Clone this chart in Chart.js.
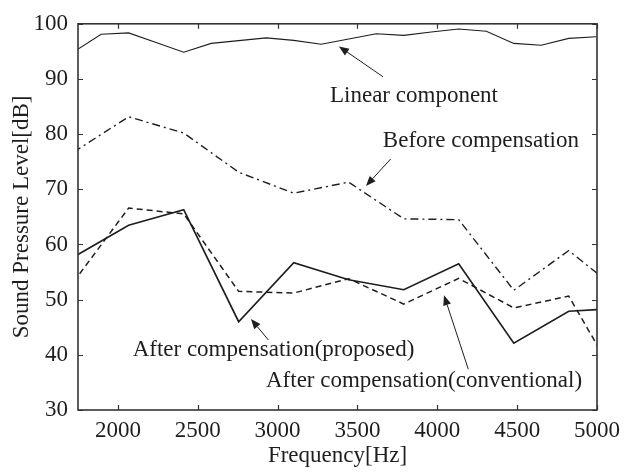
<!DOCTYPE html>
<html>
<head>
<meta charset="utf-8">
<script src="https://cdn.jsdelivr.net/npm/chart.js@4"></script>
<style>
  html, body { margin: 0; padding: 0; background: #fff; }
  #wrap { width: 631px; height: 473px; }
</style>
</head>
<body>
<div id="wrap"><canvas id="c" width="631" height="473"></canvas></div>
<script>
// ---- data ----
const freqFine = [1723, 1895, 2067, 2239, 2412, 2584, 2756, 2929, 3101, 3273, 3445, 3618, 3790, 3962, 4134, 4307, 4479, 4651, 4823, 4996];
const linearComponent = [94.9, 98.1, 98.35, 96.6, 94.85, 96.45, 96.95, 97.45, 97.0, 96.3, 97.25, 98.2, 97.9, 98.5, 99.05, 98.65, 96.45, 96.1, 97.35, 97.65];

const freqCoarse = [1723, 2067, 2412, 2756, 3101, 3445, 3790, 4134, 4479, 4823, 5168];
const beforeComp = [76.75, 83.15, 80.2, 73.1, 69.3, 71.3, 64.65, 64.5, 51.7, 58.9, 50.9];
const afterProposed = [57.75, 63.5, 66.3, 46.0, 56.7, 53.6, 51.8, 56.5, 42.1, 47.9, 48.5];
const afterConventional = [53.25, 66.6, 65.55, 51.5, 51.2, 53.8, 49.2, 53.85, 48.5, 50.65, 33.4];

const xTicks = [2000, 2500, 3000, 3500, 4000, 4500, 5000];
const yTicks = [30, 40, 50, 60, 70, 80, 90, 100];

// annotations (data coordinates)
const noteTexts = ['Linear component', 'Before compensation', 'After compensation(proposed)', 'After compensation(conventional)'];
const noteX = [3854, 4273, 2974, 3917];
const noteY = [86.9, 78.7, 40.8, 35.3];
const arrowTailX = [3660, 3708, 2942, 4194];
const arrowTailY = [90.4, 75.5, 42.7, 37.4];
const arrowHeadX = [3384, 3553, 2833, 4042];
const arrowHeadY = [95.9, 70.6, 46.5, 50.8];

const FONT = "'Liberation Serif', 'Times New Roman', serif";
const FS = 23;
const INK = '#1e1e1e';

function toXY(xs, ys) { return xs.map((x, i) => ({ x: x, y: ys[i] })); }

const frameAndTicks = {
  id: 'frameAndTicks',
  afterDatasetsDraw(chart) {
    const { ctx, chartArea: a, scales } = chart;
    const L = 5;
    ctx.save();
    ctx.strokeStyle = '#333';
    ctx.lineWidth = 1.2;
    ctx.beginPath();
    xTicks.forEach(v => {
      const px = Math.round(scales.x.getPixelForValue(v)) + 0.5;
      ctx.moveTo(px, a.bottom); ctx.lineTo(px, a.bottom - L);
      ctx.moveTo(px, a.top); ctx.lineTo(px, a.top + L);
    });
    yTicks.forEach(v => {
      const py = Math.round(scales.y.getPixelForValue(v)) + 0.5;
      ctx.moveTo(a.left, py); ctx.lineTo(a.left + L, py);
      ctx.moveTo(a.right, py); ctx.lineTo(a.right - L, py);
    });
    ctx.stroke();
    ctx.lineWidth = 1.6;
    ctx.strokeRect(a.left, a.top, a.right - a.left, a.bottom - a.top);

    // annotations
    ctx.fillStyle = INK;
    ctx.strokeStyle = INK;
    ctx.font = FS + 'px ' + FONT;
    ctx.textAlign = 'center';
    ctx.textBaseline = 'middle';
    noteTexts.forEach((t, i) => {
      ctx.fillText(t, scales.x.getPixelForValue(noteX[i]), scales.y.getPixelForValue(noteY[i]));
      const x0 = scales.x.getPixelForValue(arrowTailX[i]);
      const y0 = scales.y.getPixelForValue(arrowTailY[i]);
      const x1 = scales.x.getPixelForValue(arrowHeadX[i]);
      const y1 = scales.y.getPixelForValue(arrowHeadY[i]);
      const ang = Math.atan2(y1 - y0, x1 - x0);
      const hl = 10, hw = 4;
      const bx = x1 - hl * Math.cos(ang), by = y1 - hl * Math.sin(ang);
      ctx.lineWidth = 1;
      ctx.beginPath(); ctx.moveTo(x0, y0); ctx.lineTo(bx, by); ctx.stroke();
      ctx.beginPath();
      ctx.moveTo(x1, y1);
      ctx.lineTo(bx + hw * Math.sin(ang), by - hw * Math.cos(ang));
      ctx.lineTo(bx - hw * Math.sin(ang), by + hw * Math.cos(ang));
      ctx.closePath(); ctx.fill();
    });
    ctx.restore();
  }
};

new Chart(document.getElementById('c'), {
  type: 'line',
  data: {
    datasets: [
      { label: 'Linear component', data: toXY(freqFine, linearComponent), borderColor: INK, borderWidth: 1.1, pointRadius: 0, tension: 0 },
      { label: 'Before compensation', data: toXY(freqCoarse, beforeComp), borderColor: INK, borderWidth: 1.4, borderDash: [8, 4, 2, 4], pointRadius: 0, tension: 0 },
      { label: 'After compensation(proposed)', data: toXY(freqCoarse, afterProposed), borderColor: INK, borderWidth: 1.7, pointRadius: 0, tension: 0 },
      { label: 'After compensation(conventional)', data: toXY(freqCoarse, afterConventional), borderColor: INK, borderWidth: 1.5, borderDash: [6, 4], pointRadius: 0, tension: 0 }
    ]
  },
  options: {
    responsive: false,
    animation: false,
    devicePixelRatio: 1,
    layout: { padding: { left: 0, right: 34, top: 15, bottom: 0 } },
    plugins: { legend: { display: false }, tooltip: { enabled: false } },
    scales: {
      x: {
        type: 'linear', min: 1750, max: 5000,
        afterBuildTicks: s => { s.ticks = xTicks.map(v => ({ value: v })); },
        afterFit: s => { s.height = 63; },
        grid: { display: false, drawTicks: false },
        border: { display: false },
        ticks: { color: INK, font: { family: FONT, size: FS }, padding: 7, maxRotation: 0, autoSkip: false, callback: v => String(v) },
        title: { display: true, text: 'Frequency[Hz]', color: INK, font: { family: FONT, size: FS }, padding: { top: 0, bottom: 3 } }
      },
      y: {
        min: 30, max: 100,
        afterBuildTicks: s => { s.ticks = yTicks.map(v => ({ value: v })); },
        afterFit: s => { s.width = 78; },
        grid: { display: false, drawTicks: false },
        border: { display: false },
        ticks: { color: INK, font: { family: FONT, size: FS }, padding: 10, callback: v => String(v) },
        title: { display: true, text: 'Sound Pressure Level[dB]', color: INK, font: { family: FONT, size: FS }, padding: { top: 8, bottom: 0 } }
      }
    }
  },
  plugins: [frameAndTicks]
});
</script>
</body>
</html>
